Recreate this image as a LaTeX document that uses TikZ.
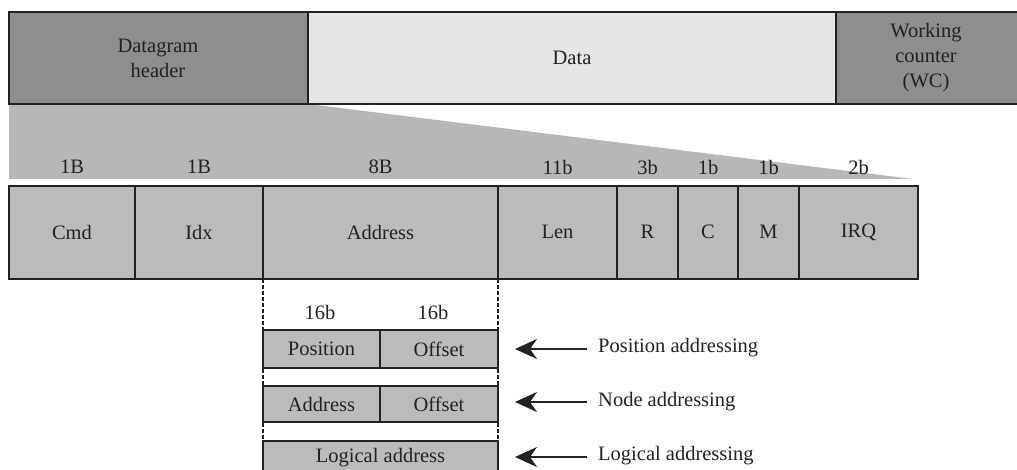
\documentclass[tikz,border=0pt]{standalone}
\usepackage{fontspec}
\setmainfont{Liberation Serif}
\usetikzlibrary{arrows.meta}
\definecolor{hdr}{HTML}{8E8E8E}
\definecolor{dat}{HTML}{E6E6E6}
\definecolor{trap}{HTML}{B7B7B7}
\definecolor{fld}{HTML}{BBBBBB}
\definecolor{ln}{HTML}{222222}
\begin{document}
\begin{tikzpicture}[x=1pt,y=-1pt,
  every node/.style={font=\fontsize{20.5}{25}\selectfont, text=ln, inner sep=0pt},
  boxst/.style={draw=ln, line width=1.9pt},
  dashst/.style={draw=ln, line width=1.5pt, dash pattern=on 4pt off 2pt},
  arr/.style={draw=ln, line width=2.2pt, -{Stealth[length=22pt,width=20pt,inset=7pt]}}]
\useasboundingbox (0,0) rectangle (1017,470);
% trapezoid
\fill[trap] (9,104) -- (308,104) -- (913,179) -- (9,179) -- cycle;
% top bar
\filldraw[boxst, fill=hdr] (9,12) rectangle (308,104);
\filldraw[boxst, fill=dat] (308,12) rectangle (836,104);
\filldraw[boxst, fill=hdr] (836,12) rectangle (1020,104);
\node[align=center] (dh) at (158,58) {Datagram\\header};
\node (data) at (572,58) {Data};
\node[align=center] (wc) at (926,58) {Working\\counter\\(WC)};
% field row
\foreach \a/\b/\t/\s/\n in {9/135/Cmd/1B/cmd, 135/263/Idx/1B/idx, 263/498/Address/8B/addr, 498/617/Len/11b/len, 617/678/R/3b/r, 678/738/C/1b/c, 738/799/M/1b/m, 799/918/IRQ/2b/irq}{
  \filldraw[boxst, fill=fld] (\a,186) rectangle (\b,279);
  \node (\n) at ({(\a+\b)/2},232) {\t};
  \node (\n s) at ({(\a+\b)/2},167) {\s};
}
% dashed lines
\coordinate (dl1) at (263,279);
\coordinate (dl2) at (498,279);
\coordinate (dl1e) at (263,470);
\coordinate (dl2e) at (498,470);
\draw[dashst] (dl1) -- (dl1e);
\draw[dashst] (dl2) -- (dl2e);
% sub boxes
\node (b1) at (320,312) {16b};
\node (b2) at (433,312) {16b};
\filldraw[boxst, fill=fld] (263,330) rectangle (380,368);
\filldraw[boxst, fill=fld] (380,330) rectangle (498,368);
\filldraw[boxst, fill=fld] (263,386) rectangle (380,422);
\filldraw[boxst, fill=fld] (380,386) rectangle (498,422);
\filldraw[boxst, fill=fld] (263,441) rectangle (498,476);
\node (pos) at (321.5,349) {Position};
\node (off1) at (439,349) {Offset};
\node (adr2) at (321.5,404) {Address};
\node (off2) at (439,404) {Offset};
\node (log) at (380.5,458) {Logical address};
% arrows
\node[anchor=west] (pa) at (598,348) {Position addressing};
\node[anchor=west] (na) at (598,402) {Node addressing};
\node[anchor=west] (la) at (598,456) {Logical addressing};
\coordinate (t1) at (515,349);
\coordinate (t2) at (515,402);
\coordinate (t3) at (515,457);
\draw[arr] (pa.west) ++(-11,1) -- (t1);
\draw[arr] (na.west) ++(-11,0) -- (t2);
\draw[arr] (la.west) ++(-11,1) -- (t3);
\end{tikzpicture}
\end{document}
